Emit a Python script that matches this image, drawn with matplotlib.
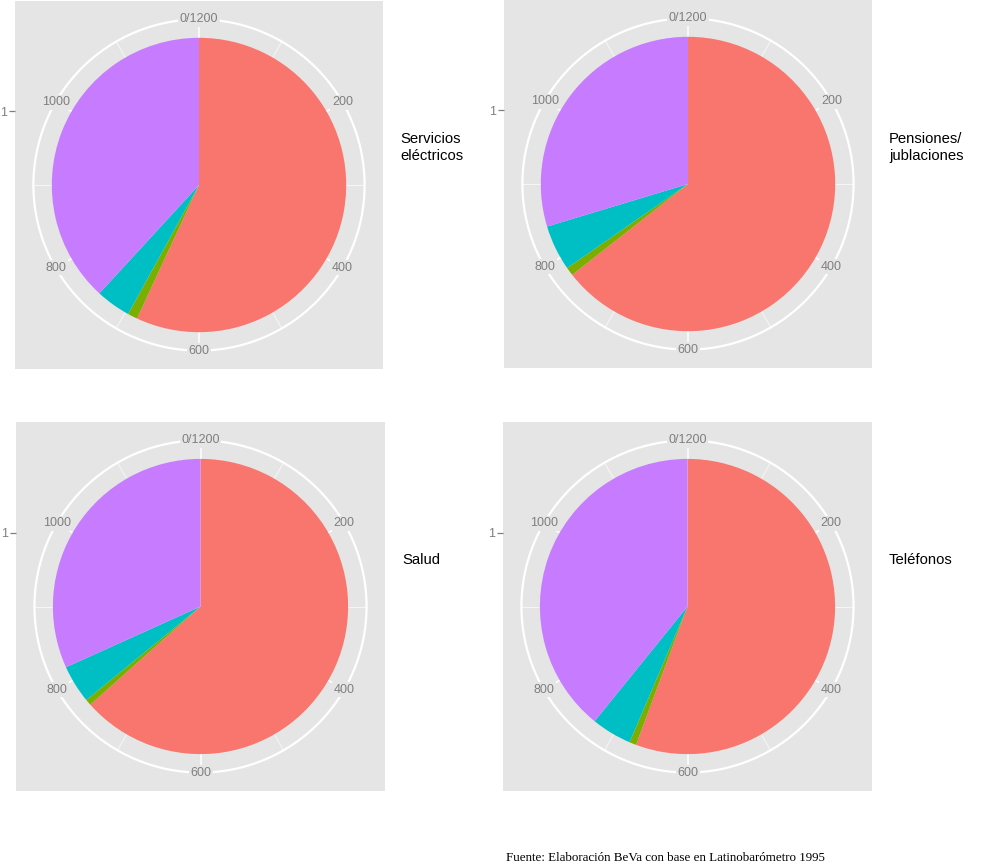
import numpy as np
import matplotlib
matplotlib.use("Agg")
import matplotlib.pyplot as plt
from matplotlib.patches import Circle

# ---- data ----
panels = ["Servicios\neléctricos", "Pensiones/\njublaciones", "Salud", "Teléfonos"]
categories = ["A", "B", "C", "D"]
servicios = [683, 13, 46, 458]
pensiones = [773, 11, 60, 356]
salud = [761, 8, 50, 381]
telefonos = [668, 9, 53, 470]
series = [servicios, pensiones, salud, telefonos]
colors = ["#F8766D", "#7CAE00", "#00BFC4", "#C77CFF"]
theta_major = [0, 200, 400, 600, 800, 1000]
theta_minor = [100, 300, 500, 700, 900, 1100]
source = "Fuente: Elaboración BeVa con base en Latinobarómetro 1995"

W, H = 984, 864
fig = plt.figure(figsize=(W / 100, H / 100), dpi=100)
fig.patch.set_facecolor("white")

# panel boxes in pixel coords (left, top, size)
boxes = [(15, 1, 368), (504, 0, 368), (16, 422, 369), (503, 422, 369)]
strip_y = [147.5, 147.5, 560, 560]
strip_x = [400, 889, 402, 889]

grey = "#E5E5E5"
labcol = "#7F7F7F"

for i, (vals, name) in enumerate(zip(series, panels)):
    l, t, s = boxes[i]
    ax = fig.add_axes([l / W, (H - t - s) / H, s / W, s / H])
    ax.set_facecolor(grey)
    total = float(sum(vals))

    # grid (theta lines + outer circle)
    def ang(v):
        return np.deg2rad(90 - v / total * 360.0)
    for v in theta_minor:
        a = ang(v)
        ax.plot([0, 0.45 * np.cos(a)], [0, 0.45 * np.sin(a)], color="#F5F5F5",
                lw=0.8, zorder=0.5, solid_capstyle="butt")
    for v in theta_major:
        a = ang(v)
        ax.plot([0, 0.45 * np.cos(a)], [0, 0.45 * np.sin(a)], color="white",
                lw=1.1, zorder=0.5, solid_capstyle="butt")
    ax.add_patch(Circle((0, 0), 0.45, fill=False, edgecolor="white", lw=1.6, zorder=0.6))

    ax.pie(vals, colors=colors, startangle=90, counterclock=False, radius=0.4,
           center=(0, 0), frame=True, wedgeprops=dict(linewidth=0, antialiased=True))

    for v in theta_major:
        a = ang(v)
        lab = "0/%d" % int(total) if v == 0 else str(v)
        ax.text(0.45 * np.cos(a), 0.45 * np.sin(a), lab, ha="center", va="center",
                fontsize=9, color=labcol, family="Liberation Sans", zorder=3,
                bbox=dict(boxstyle="square,pad=0.12", facecolor=grey, edgecolor="none"))

    ax.set_xlim(-0.5, 0.5)
    ax.set_ylim(-0.5, 0.5)
    ax.set_aspect("auto")
    ax.set_xticks([])
    ax.set_yticks([0.2])
    ax.set_yticklabels(["1"], fontsize=9, color=labcol, family="Liberation Sans")
    ax.tick_params(axis="y", length=4, width=0.9, color=labcol, pad=2)
    for sp in ax.spines.values():
        sp.set_visible(False)

    fig.text(strip_x[i] / W, 1 - strip_y[i] / H, name, ha="left", va="center",
             fontsize=10.7, family="Liberation Sans", color="black", linespacing=1.3)

fig.text(506 / W, 1 - 858 / H, source, ha="left", va="center", fontsize=9.4,
         family="Liberation Serif", color="black")

fig.savefig("out.png", dpi=100, facecolor="white")
